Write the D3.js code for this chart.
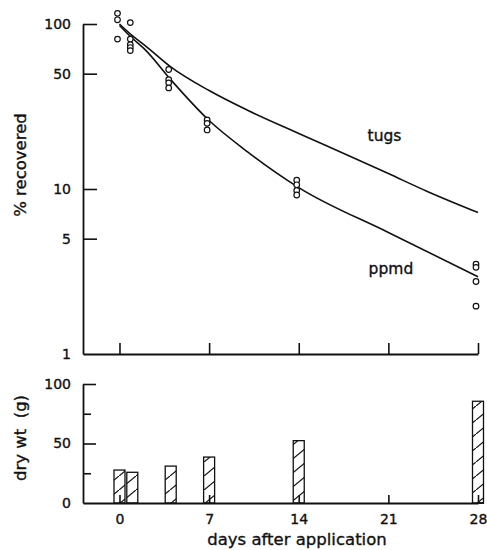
<!DOCTYPE html>
<html>
<head>
<meta charset="utf-8">
<script src="https://cdn.jsdelivr.net/npm/d3@7"></script>
<style>
  body { margin: 0; background: #fff; }
  svg text { font-family: "DejaVu Sans", sans-serif; fill: #111; stroke: #111; stroke-width: 0.35px; }
</style>
</head>
<body>
<svg id="chart" width="487" height="550"></svg>
<script>
// measured residues (% recovered), by day
const pointDays = [0, 0, 0, 1, 1, 1, 1, 1, 4, 4, 4, 4, 7, 7, 7, 14, 14, 14, 14, 28, 28, 28, 28];
const pointValues = [116, 106, 81, 102, 81, 75, 72, 69, 53, 46, 44, 41, 26.2, 25, 22.8, 11.3, 10.6, 9.8, 9.2, 3.5, 3.35, 2.75, 1.95];

// fitted curves
const tugsDays = [0, 1, 2, 4, 7, 10, 14, 18, 21, 24, 28];
const tugsValues = [100, 85, 74, 55, 39.5, 30, 21.7, 15.8, 12.4, 9.7, 7.2];
const ppmdDays = [0, 1, 2, 4, 7, 10, 14, 21, 28];
const ppmdValues = [98, 82, 70, 46, 26, 16.8, 10.2, 5.45, 2.94];

// plant dry weight (g)
const barDays = [0, 1, 4, 7, 14, 28];
const barValues = [27.7, 25.8, 31, 38.6, 52.4, 85.5];

const dayTicks = [0, 7, 14, 21, 28];
const logTicks = [1, 5, 10, 50, 100];
const wtTicks = [0, 50, 100];
const wtMinor = [25, 75];

const svg = d3.select("#chart");

const x = d3.scaleLinear().domain([-2.85, 28]).range([83, 478]);
const yTop = d3.scaleLog().domain([1, 100]).range([354, 24]);
const yBot = d3.scaleLinear().domain([0, 100]).range([503, 384]);

// hatch for the bars
svg.append("defs").append("pattern")
    .attr("id", "hatch")
    .attr("patternUnits", "userSpaceOnUse")
    .attr("width", 17)
    .attr("height", 14)
    .append("path")
    .attr("d", "M0,14 L17,0")
    .attr("stroke", "#111")
    .attr("stroke-width", 1.2);

function styleAxis(g) {
    g.selectAll("path.domain").attr("stroke", "#111").attr("stroke-width", 1.8);
    g.selectAll(".tick line").attr("stroke", "#111").attr("stroke-width", 1.6);
    g.selectAll(".tick text").style("font-size", "14px");
}

// ---- top panel ----
svg.append("g")
    .attr("transform", "translate(83,0)")
    .call(d3.axisLeft(yTop).tickValues(logTicks).tickFormat(d3.format("d"))
        .tickSizeInner(-14).tickSizeOuter(0).tickPadding(12))
    .call(styleAxis)
    .call(g => g.selectAll(".tick").filter(d => d === 1).select("line").remove());

svg.append("g")
    .attr("transform", "translate(0,354)")
    .call(d3.axisBottom(x).tickValues(dayTicks).tickFormat("")
        .tickSizeInner(-11).tickSizeOuter(0))
    .call(styleAxis);

const line = d3.line()
    .x(d => x(d[0]))
    .y(d => yTop(d[1]))
    .curve(d3.curveMonotoneX);

svg.append("path")
    .datum(d3.zip(tugsDays, tugsValues))
    .attr("d", line)
    .attr("fill", "none")
    .attr("stroke", "#111")
    .attr("stroke-width", 1.6);

svg.append("path")
    .datum(d3.zip(ppmdDays, ppmdValues))
    .attr("d", line)
    .attr("fill", "none")
    .attr("stroke", "#111")
    .attr("stroke-width", 1.6);

svg.selectAll("circle.pt")
    .data(d3.zip(pointDays, pointValues))
    .join("circle")
    .attr("class", "pt")
    .attr("cx", d => x(d[0]) - 2)
    .attr("cy", d => yTop(d[1]))
    .attr("r", 2.8)
    .attr("fill", "#fff")
    .attr("stroke", "#111")
    .attr("stroke-width", 1.2);

svg.append("text")
    .attr("x", x(20.7))
    .attr("y", yTop(19.5))
    .attr("text-anchor", "middle")
    .style("font-size", "15.5px")
    .text("tugs");

svg.append("text")
    .attr("x", x(21.2))
    .attr("y", yTop(3.05))
    .attr("text-anchor", "middle")
    .style("font-size", "15.5px")
    .text("ppmd");

svg.append("text")
    .attr("transform", "translate(26,165) rotate(-90)")
    .attr("text-anchor", "middle")
    .style("font-size", "16.5px")
    .text("% recovered");

// ---- bottom panel ----
svg.append("g")
    .attr("transform", "translate(83,0)")
    .call(d3.axisLeft(yBot).tickValues(wtTicks)
        .tickSizeInner(-13).tickSizeOuter(0).tickPadding(12))
    .call(styleAxis)
    .call(g => g.selectAll(".tick").filter(d => d === 0).select("line").remove());

svg.append("g")
    .attr("transform", "translate(83,0)")
    .call(d3.axisLeft(yBot).tickValues(wtMinor).tickFormat("")
        .tickSizeInner(-8).tickSizeOuter(0))
    .call(styleAxis)
    .call(g => g.select("path.domain").remove());

svg.append("g")
    .attr("transform", "translate(0,503)")
    .call(d3.axisBottom(x).tickValues(dayTicks)
        .tickSizeInner(-8).tickSizeOuter(0).tickPadding(11))
    .call(styleAxis);

svg.append("line")
    .attr("x1", x(28)).attr("x2", x(28) + 6)
    .attr("y1", yBot(0)).attr("y2", yBot(0))
    .attr("stroke", "#111").attr("stroke-width", 1.8);

const barW = 11;
svg.selectAll("rect.bar")
    .data(d3.zip(barDays, barValues))
    .join("rect")
    .attr("class", "bar")
    .attr("x", d => x(d[0]) - barW / 2)
    .attr("y", d => yBot(d[1]))
    .attr("width", barW)
    .attr("height", d => yBot(0) - yBot(d[1]))
    .attr("fill", "url(#hatch)")
    .attr("stroke", "#111")
    .attr("stroke-width", 1.3);

svg.append("text")
    .attr("transform", "translate(26,438) rotate(-90)")
    .attr("text-anchor", "middle")
    .style("font-size", "16.5px")
    .attr("xml:space", "preserve")
    .text("dry wt  (g)");

svg.append("text")
    .attr("x", 297)
    .attr("y", 545)
    .attr("text-anchor", "middle")
    .style("font-size", "16.5px")
    .text("days after application");
</script>
</body>
</html>
